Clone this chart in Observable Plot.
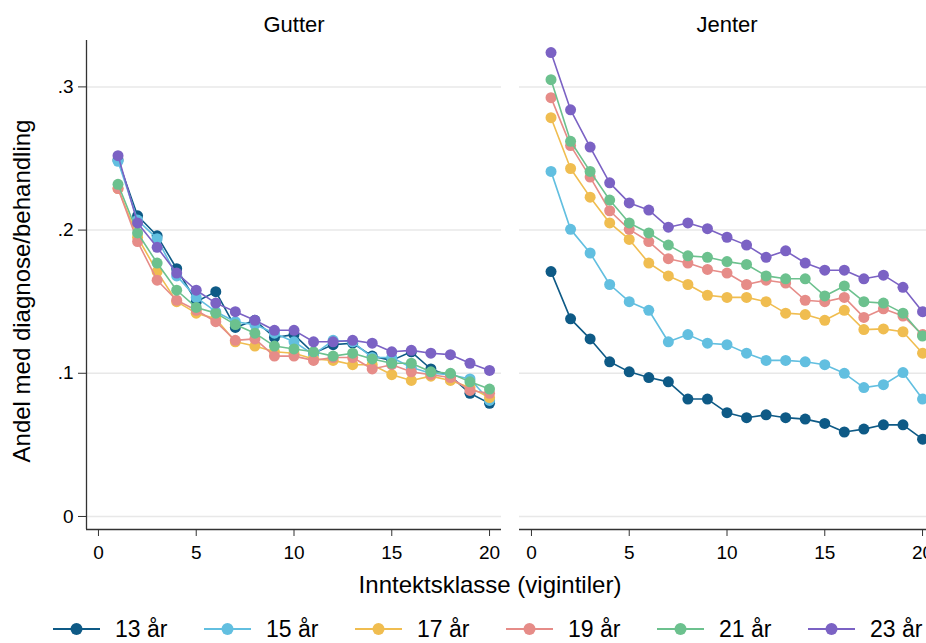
<!DOCTYPE html>
<html>
<head>
<meta charset="utf-8">
<script src="https://cdn.jsdelivr.net/npm/d3@7"></script>
<script src="https://cdn.jsdelivr.net/npm/@observablehq/plot@0.6"></script>
<style>
  html, body { margin: 0; padding: 0; background: #fff; overflow: hidden; }
  body { width: 926px; height: 643px; position: relative; font-family: "Liberation Sans", Arial, sans-serif; color: #000; }
  #chart { position: absolute; left: 0; top: 0; width: 935px; }
  #chart svg { max-width: none !important; }
  .xlabel { position: absolute; left: 0; width: 980px; top: 571px; text-align: center; font-size: 24px; line-height: 28px; white-space: nowrap; }
  .ylabel { position: absolute; left: 22px; top: 291px; transform: translate(-50%, -50%) rotate(-90deg); font-size: 24px; line-height: 28px; white-space: nowrap; }
  .legend-item { position: absolute; top: 616px; height: 26px; display: flex; align-items: center; font-size: 23px; line-height: 26px; white-space: nowrap; }
  .legend-item svg { margin-right: 15px; }
</style>
</head>
<body>
<div id="chart"></div>
<div class="ylabel">Andel med diagnose/behandling</div>
<div class="xlabel">Inntektsklasse (vigintiler)</div>
<div id="legend"></div>
<script>
// Categories
const panels = ["Gutter", "Jenter"];
const ages = ["13 år", "15 år", "17 år", "19 år", "21 år", "23 år"];
const vigintiles = [1,2,3,4,5,6,7,8,9,10,11,12,13,14,15,16,17,18,19,20];
const colors = ["#0e5a86", "#62bfe0", "#f0bd50", "#e68c88", "#6cc18e", "#7b62c4"];
const xTicks = [0, 5, 10, 15, 20];
const yTicks = [0, 0.1, 0.2, 0.3];

// Gutter (boys)
const g13 = [0.249,0.210,0.196,0.173,0.150,0.157,0.132,0.137,0.125,0.127,0.114,0.120,0.121,0.112,0.109,0.115,0.103,0.098,0.086,0.079];
const g15 = [0.248,0.207,0.194,0.168,0.153,0.143,0.136,0.134,0.128,0.122,0.113,0.123,0.122,0.111,0.111,0.104,0.100,0.099,0.096,0.081];
const g17 = [0.229,0.195,0.171,0.150,0.142,0.138,0.122,0.119,0.115,0.114,0.110,0.109,0.106,0.106,0.099,0.095,0.098,0.095,0.090,0.083];
const g19 = [0.229,0.192,0.165,0.151,0.144,0.136,0.123,0.124,0.112,0.112,0.109,0.111,0.111,0.103,0.106,0.101,0.099,0.097,0.088,0.086];
const g21 = [0.232,0.198,0.177,0.158,0.146,0.142,0.134,0.128,0.119,0.117,0.115,0.112,0.114,0.110,0.107,0.107,0.101,0.100,0.094,0.089];
const g23 = [0.252,0.205,0.188,0.170,0.158,0.149,0.143,0.137,0.130,0.130,0.122,0.122,0.123,0.121,0.115,0.116,0.114,0.113,0.107,0.102];

// Jenter (girls)
const j13 = [0.171,0.138,0.124,0.108,0.101,0.097,0.094,0.082,0.082,0.0725,0.069,0.071,0.069,0.068,0.065,0.059,0.061,0.064,0.064,0.054];
const j15 = [0.241,0.2005,0.184,0.162,0.150,0.144,0.122,0.127,0.121,0.120,0.114,0.109,0.109,0.108,0.106,0.100,0.090,0.092,0.1005,0.082];
const j17 = [0.2785,0.243,0.223,0.205,0.1935,0.177,0.168,0.162,0.1545,0.153,0.153,0.150,0.142,0.141,0.137,0.144,0.1305,0.131,0.129,0.114];
const j19 = [0.2925,0.259,0.237,0.2135,0.2005,0.192,0.180,0.177,0.1725,0.170,0.162,0.165,0.163,0.151,0.150,0.153,0.139,0.145,0.140,0.127];
const j21 = [0.305,0.262,0.241,0.221,0.205,0.198,0.1895,0.182,0.181,0.178,0.176,0.168,0.166,0.166,0.154,0.161,0.150,0.149,0.142,0.126];
const j23 = [0.324,0.284,0.258,0.233,0.219,0.214,0.202,0.205,0.201,0.195,0.1895,0.181,0.1855,0.177,0.172,0.172,0.166,0.1685,0.160,0.143];

const gutter = [g13, g15, g17, g19, g21, g23];
const jenter = [j13, j15, j17, j19, j21, j23];

// Build a long table
const rows = [];
[gutter, jenter].forEach((series, p) => {
  series.forEach((vals, a) => {
    vals.forEach((v, i) => rows.push({panel: panels[p], age: ages[a], x: vigintiles[i], y: v}));
  });
});

const xDomain = [-0.612, 20.612];
const yDomain = [-0.0091, 0.3324];
const fmtY = d => d === 0 ? "0" : String(+d.toFixed(2)).replace(/^0\./, ".");

const seriesMarks = [];
ages.forEach((age, a) => {
  const data = rows.filter(r => r.age === age);
  seriesMarks.push(Plot.line(data, {x: "x", y: "y", z: "panel", fx: "panel", stroke: colors[a], strokeWidth: 1.6}));
  seriesMarks.push(Plot.dot(data, {x: "x", y: "y", fx: "panel", fill: colors[a], r: 5.5, stroke: "none"}));
});

const chart = Plot.plot({
  width: 935,
  height: 565,
  marginLeft: 85,
  marginRight: 0,
  marginTop: 40,
  marginBottom: 36,
  style: {fontFamily: "'Liberation Sans', Arial, sans-serif", fontSize: "19px", color: "#000", background: "#fff"},
  fx: {domain: panels, paddingInner: 0.0406, paddingOuter: 0, label: null},
  x: {domain: xDomain, label: null},
  y: {domain: yDomain, label: null},
  marks: [
    Plot.gridY(yTicks, {stroke: "#e8e8e8", strokeOpacity: 1, strokeWidth: 1.5}),
    Plot.ruleY([yDomain[0]], {stroke: "#333", strokeWidth: 1.3}),
    Plot.ruleX([{panel: "Gutter"}], {x: () => xDomain[0], fx: "panel", stroke: "#333", strokeWidth: 1.3}),
    Plot.axisX(xTicks, {tickSize: 7, tickPadding: 9, stroke: "#333", label: null, fontSize: 19}),
    Plot.axisY(yTicks, {tickSize: 8, tickPadding: 5, stroke: "#333", tickFormat: fmtY, label: null, fontSize: 19}),
    Plot.axisFx({anchor: "top", tickSize: 0, tickPadding: 9, label: null, fontSize: 22}),
    ...seriesMarks
  ]
});
chart.style.maxWidth = "none";
document.getElementById("chart").appendChild(chart);

// Legend
const legend = document.getElementById("legend");
ages.forEach((age, a) => {
  const item = document.createElement("div");
  item.className = "legend-item";
  item.style.left = (53 + 151 * a) + "px";
  item.innerHTML = `<svg width="47" height="16"><line x1="0" x2="47" y1="8" y2="8" stroke="${colors[a]}" stroke-width="2"/><circle cx="23.5" cy="8" r="6" fill="${colors[a]}"/></svg><span>${age}</span>`;
  legend.appendChild(item);
});
</script>
</body>
</html>
